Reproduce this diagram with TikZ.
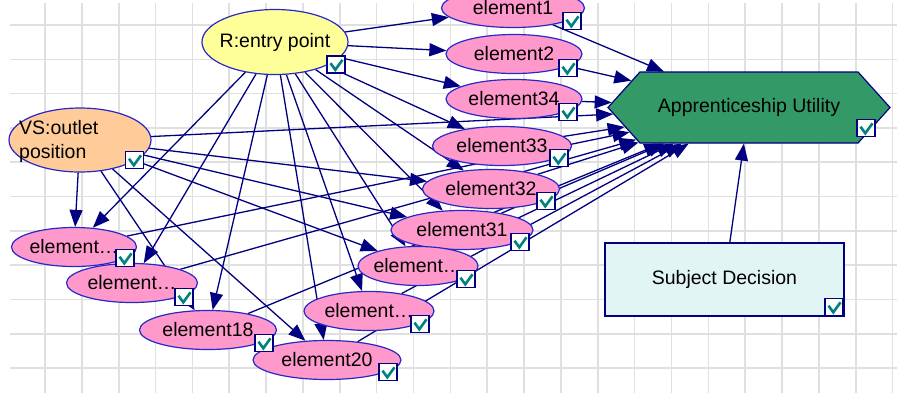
\documentclass[tikz,border=0pt]{standalone}
\usepackage{fontspec}
\setmainfont{Liberation Sans}
\usetikzlibrary{shapes.geometric,shapes.symbols,arrows.meta}
\pgfdeclarelayer{background}
\pgfsetlayers{background,main}
\definecolor{navyline}{RGB}{0,0,128}
\definecolor{nodeblue}{RGB}{40,40,200}
\definecolor{elempink}{RGB}{255,153,204}
\definecolor{entryyellow}{RGB}{255,255,153}
\definecolor{outletorange}{RGB}{255,204,153}
\definecolor{utilgreen}{RGB}{51,153,102}
\definecolor{decisioncyan}{RGB}{226,245,245}
\definecolor{checkteal}{RGB}{0,128,128}
\definecolor{gridgray}{RGB}{224,224,224}
\tikzset{
  gridline/.style={draw=gridgray, line width=1.6pt},
  elem/.style={ellipse, draw=nodeblue, line width=1.2pt, fill=elempink,
    inner xsep=-14pt, inner ysep=0pt, minimum height=39pt},
  chkbox/.style={draw=navyline, line width=1.2pt, fill=white,
    minimum width=18pt, minimum height=17pt, inner sep=0pt,
    path picture={\draw[checkteal, line width=2.6pt]
      ([shift={(-5.5pt,1.3pt)}]path picture bounding box.center)
      -- ++(4.8pt,-6.6pt) -- ++(7.2pt,10pt);}},
  link/.style={draw=navyline, line width=1.3pt, -{Triangle[length=17pt,width=13pt]}},
}
\begin{document}
\begin{tikzpicture}[x=1pt,y=-1pt,font=\fontsize{19.5}{24}\selectfont]
\useasboundingbox (0,0) rectangle (897,392);
\begin{pgfonlayer}{background}
\fill[white] (0,0) rectangle (897,392);
\begin{scope}
\clip (10,3) rectangle (897,392);
\foreach \i in {0,...,23}
  \draw[gridline] ({45+36.85*\i},0) -- ++(0,400);
\foreach \j in {0,...,10}
  \draw[gridline] (0,{25+34.3*\j}) -- ++(900,0);
\end{scope}
\end{pgfonlayer}

% chance nodes
\node[elem, fill=entryyellow, minimum width=146pt, minimum height=65pt] (r) at (275,42) {R:entry point};
\node[elem, fill=outletorange, minimum width=142pt, minimum height=64pt] (vs) at (80,140) {};
\node[align=left, anchor=west, inner sep=0pt] (vs-lbl) at (19,141) {VS:outlet\\position};

\node[elem, minimum width=143pt] (el1) at (513,8) {element1};
\node[elem, minimum width=136pt] (el2) at (514,54) {element2};
\node[elem, minimum width=136pt] (el34) at (514,99) {element34};
\node[elem, minimum width=139pt] (el33) at (502,146) {element33};
\node[elem, minimum width=137pt] (el32) at (491,189) {element32};
\node[elem, minimum width=142pt] (el31) at (462,230) {element31};
\node[elem, minimum width=120pt] (emr) at (418,266) {element…};
\node[elem, minimum width=130pt] (elm) at (369,311) {element…};
\node[elem, minimum width=137pt] (el18) at (208,330) {element18};
\node[elem, minimum width=148pt] (el20) at (327,360) {element20};
\node[elem, minimum width=125pt] (elu) at (74,247) {element…};
\node[elem, minimum width=131pt] (ell) at (132,283) {element…};

% utility and decision
\node[signal, signal to=east and west, signal pointer angle=96, draw=navyline, line width=1.2pt,
  fill=utilgreen, minimum width=282pt, minimum height=71pt, inner sep=0pt] (util) at (749,107.5) {Apprenticeship Utility};
\node[rectangle, draw=navyline, line width=1.2pt, fill=decisioncyan,
  minimum width=239pt, minimum height=73pt] (sd) at (724.5,279.5) {Subject Decision};

% check boxes
\foreach \n/\x/\y in {r/336/64.5, vs/134.5/160, el1/572/21, el2/568/68, el34/568/112,
  el33/559/158, el32/546/201, el31/520/242, emr/466/279, elm/420/324, el20/388/372,
  el18/264/343, ell/184/297, elu/125/258, util/866/128, sd/834/307}
  \node[chkbox] (c-\n) at (\x,\y) {};

% links
\begin{pgfonlayer}{background}
\foreach \t in {el1,el2,el34,el33,el32,el31,emr,elm,el20,el18,ell,elu}
  \draw[link] (r) -- (\t);
\foreach \t in {elu,el18,el20,el32,el31,emr,util}
  \draw[link] (vs) -- (\t);
\foreach \s in {el1,el2,el34,el33,el32,el31,emr,elm,el20,el18,ell,elu}
  \draw[link] (\s) -- (util);
\draw[link] (sd) -- (util);
\end{pgfonlayer}
\end{tikzpicture}
\end{document}
